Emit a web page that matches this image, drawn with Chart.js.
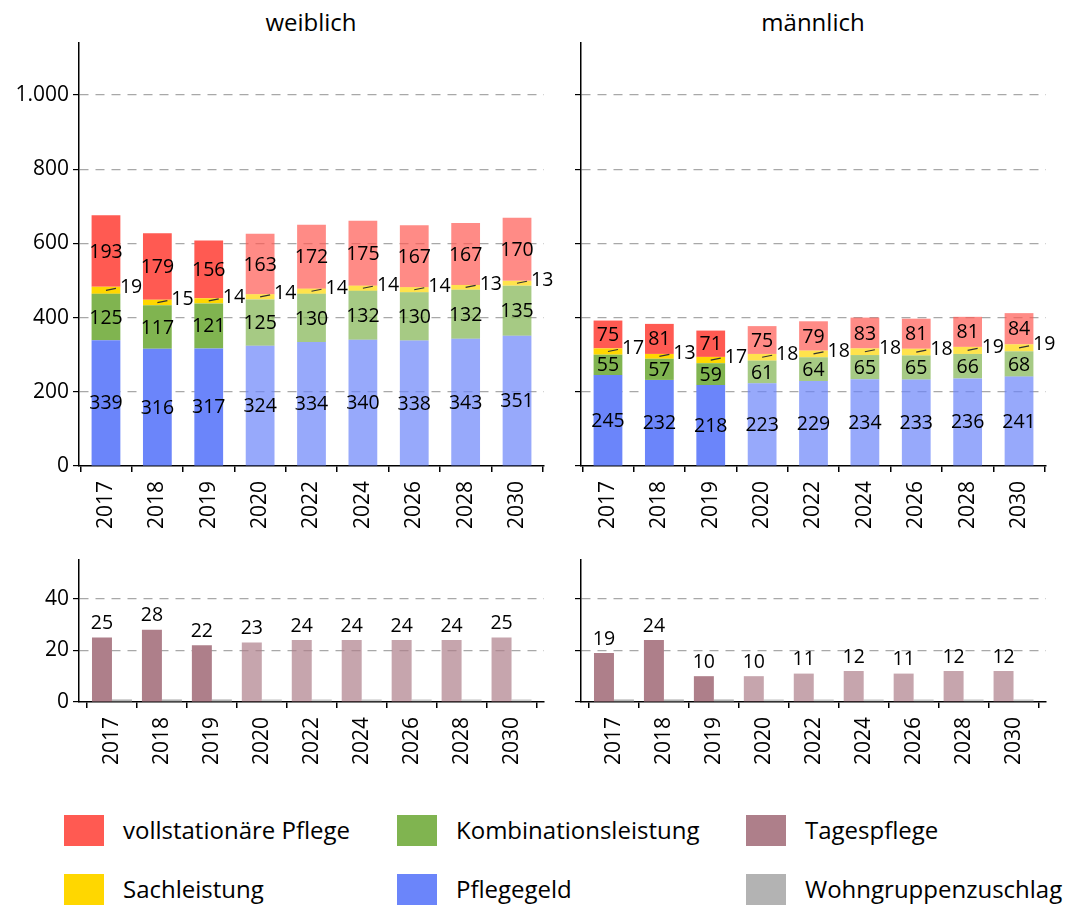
<!DOCTYPE html>
<html>
<head>
<meta charset="utf-8">
<script src="https://cdn.jsdelivr.net/npm/chart.js@4.4.1/dist/chart.umd.min.js"></script>
<style>
  body { margin: 0; background: #fff; font-family: "Open Sans", sans-serif; }
  #page { position: relative; width: 1066px; height: 907px; overflow: hidden; }
  canvas { position: absolute; }
  .title { position: absolute; top: 5px; width: 300px; text-align: center; font-size: 24px; color: #000; }
  .leg { position: absolute; height: 31px; line-height: 31px; font-size: 24px; color: #000; white-space: nowrap; }
  .leg span { position: absolute; left: 0; top: 0; width: 40px; height: 31px; }
  .leg b { font-weight: normal; position: absolute; left: 59px; top: -1px; }
</style>
</head>
<body>
<div id="page">
  <div class="title" style="left:161px">weiblich</div>
  <div class="title" style="left:663px">männlich</div>
  <canvas id="topW" width="560" height="545" style="left:0;top:0"></canvas>
  <canvas id="topM" width="560" height="545" style="left:502px;top:0"></canvas>
  <canvas id="botW" width="560" height="264" style="left:0;top:517px"></canvas>
  <canvas id="botM" width="560" height="264" style="left:502px;top:517px"></canvas>
  <div id="legend"></div>
</div>
<script>
// years, 2020 onwards are projections (drawn lighter)
var years = ['2017', '2018', '2019', '2020', '2022', '2024', '2026', '2028', '2030'];
var firstProjection = 3;

// weiblich
var pflegegeldW = [339, 316, 317, 324, 334, 340, 338, 343, 351];
var kombiW      = [125, 117, 121, 125, 130, 132, 130, 132, 135];
var sachW       = [19, 15, 14, 14, 14, 14, 14, 13, 13];
var vollW       = [193, 179, 156, 163, 172, 175, 167, 167, 170];
var tagesW      = [25, 28, 22, 23, 24, 24, 24, 24, 25];
var wohnW       = [1, 1, 1, 1, 1, 1, 1, 1, 1];

// männlich
var pflegegeldM = [245, 232, 218, 223, 229, 234, 233, 236, 241];
var kombiM      = [55, 57, 59, 61, 64, 65, 65, 66, 68];
var sachM       = [17, 13, 17, 18, 18, 18, 18, 19, 19];
var vollM       = [75, 81, 71, 75, 79, 83, 81, 81, 84];
var tagesM      = [19, 24, 10, 10, 11, 12, 11, 12, 12];
var wohnM       = [1, 1, 1, 1, 1, 1, 1, 1, 1];

var yTicksTop = [0, 200, 400, 600, 800, 1000];
var yTicksBottom = [0, 20, 40];

var colors = {
    voll: [255, 90, 82],
    kombi: [128, 180, 80],
    sach: [255, 215, 0],
    pflegegeld: [107, 133, 250],
    tages: [174, 127, 138],
    wohn: [179, 179, 179]
};

var legendItems = [
    ['vollstationäre Pflege', 'voll'],
    ['Kombinationsleistung', 'kombi'],
    ['Tagespflege', 'tages'],
    ['Sachleistung', 'sach'],
    ['Pflegegeld', 'pflegegeld'],
    ['Wohngruppenzuschlag', 'wohn']
];

var FONT = '"Open Sans", sans-serif';

function rgb(c, a) {
    return 'rgba(' + c[0] + ',' + c[1] + ',' + c[2] + ',' + a + ')';
}

function barColors(c) {
    return years.map(function (y, i) { return i < firstProjection ? rgb(c, 1) : rgb(c, 0.7); });
}

function points(arr) {
    return arr.map(function (v, i) { return { x: i, y: v }; });
}

// value labels: centred in segment, beside the bar with a small leader, or above the bar
var segLabels = {
    id: 'segLabels',
    afterDatasetsDraw: function (chart) {
        var ctx = chart.ctx;
        ctx.save();
        ctx.font = '19.5px ' + FONT;
        ctx.fillStyle = '#000';
        chart.data.datasets.forEach(function (ds, di) {
            if (!ds.labelMode) return;
            var meta = chart.getDatasetMeta(di);
            meta.data.forEach(function (bar, i) {
                var v = ds.data[i].y;
                var cy = (bar.y + bar.base) / 2;
                if (ds.labelMode === 'center') {
                    ctx.textAlign = 'center';
                    ctx.textBaseline = 'middle';
                    ctx.fillText(v, bar.x, cy + 1);
                } else if (ds.labelMode === 'side') {
                    ctx.strokeStyle = '#333';
                    ctx.lineWidth = 1.2;
                    ctx.beginPath();
                    ctx.moveTo(bar.x, cy);
                    ctx.lineTo(bar.x + 10, cy - 2);
                    ctx.stroke();
                    ctx.textAlign = 'left';
                    ctx.textBaseline = 'middle';
                    ctx.fillText(v, bar.x + 14, cy - 3);
                } else if (ds.labelMode === 'top') {
                    ctx.textAlign = 'center';
                    ctx.textBaseline = 'middle';
                    ctx.fillText(v, bar.x, bar.y - 14);
                }
            });
        });
        ctx.restore();
    }
};

function yScale(max, ticks, showLabels) {
    return {
        type: 'linear',
        min: 0,
        max: max,
        stacked: true,
        afterBuildTicks: function (scale) {
            scale.ticks = ticks.map(function (v) { return { value: v }; });
        },
        afterFit: function (scale) { scale.width = 79; },
        border: { display: true, color: '#000', width: 1.5, dash: [9, 7] },
        grid: {
            color: function (c) { return c.tick && c.tick.value === 0 ? 'rgba(0,0,0,0)' : '#a8a8a8'; },
            tickColor: '#000',
            tickLength: 6,
            lineWidth: 1.2,
            tickBorderDash: [],
            tickBorderDashOffset: 0
        },
        ticks: {
            display: showLabels,
            padding: 4,
            color: '#000',
            font: { family: FONT, size: 21 },
            callback: function (v) { return v.toLocaleString('de-DE'); }
        }
    };
}

function xScale(min, max) {
    return {
        type: 'linear',
        min: min,
        max: max,
        stacked: true,
        offset: false,
        afterBuildTicks: function (scale) {
            scale.ticks = years.map(function (y, i) { return { value: i }; });
        },
        afterFit: function (scale) { scale.height = 79; },
        border: { display: true, color: '#000', width: 1.5 },
        grid: { drawOnChartArea: false, drawTicks: true, tickLength: 6, tickColor: '#000', lineWidth: 1.5 },
        ticks: {
            autoSkip: false,
            minRotation: 90,
            maxRotation: 90,
            padding: 9,
            color: '#000',
            font: { family: FONT, size: 21 },
            callback: function (v) { return years[v]; }
        }
    };
}

function baseOptions(xs, ys) {
    return {
        responsive: false,
        animation: false,
        layout: { padding: { top: 43, right: 16, left: 0, bottom: 0 } },
        plugins: { legend: { display: false }, tooltip: { enabled: false } },
        scales: { x: xs, y: ys }
    };
}

function topChart(id, pflegegeld, kombi, sach, voll, showLabels) {
    var ds = [
        ['Pflegegeld', pflegegeld, 'pflegegeld', 'center'],
        ['Kombinationsleistung', kombi, 'kombi', 'center'],
        ['Sachleistung', sach, 'sach', 'side'],
        ['vollstationäre Pflege', voll, 'voll', 'center']
    ].map(function (d) {
        return {
            label: d[0],
            data: points(d[1]),
            backgroundColor: barColors(colors[d[2]]),
            borderWidth: 0,
            barPercentage: 0.56,
            categoryPercentage: 1,
            labelMode: d[3]
        };
    });
    new Chart(document.getElementById(id), {
        type: 'bar',
        data: { datasets: ds },
        options: baseOptions(xScale(-0.525, 8.525), yScale(1140, yTicksTop, showLabels)),
        plugins: [segLabels]
    });
}

function bottomChart(id, tages, wohn, showLabels) {
    var ds = [
        { label: 'Tagespflege', data: points(tages), backgroundColor: barColors(colors.tages), labelMode: 'top' },
        { label: 'Wohngruppenzuschlag', data: points(wohn), backgroundColor: barColors(colors.wohn) }
    ];
    ds.forEach(function (d) {
        d.borderWidth = 0;
        d.barPercentage = 1;
        d.categoryPercentage = 0.8;
    });
    var xs = xScale(-0.66, 8.65);
    xs.stacked = false;
    var ys = yScale(55, yTicksBottom, showLabels);
    ys.stacked = false;
    new Chart(document.getElementById(id), {
        type: 'bar',
        data: { datasets: ds },
        options: baseOptions(xs, ys),
        plugins: [segLabels]
    });
}

topChart('topW', pflegegeldW, kombiW, sachW, vollW, true);
topChart('topM', pflegegeldM, kombiM, sachM, vollM, false);
bottomChart('botW', tagesW, wohnW, true);
bottomChart('botM', tagesM, wohnM, false);

// legend, 3 columns x 2 rows
var legCols = [64, 397, 746];
var legRows = [815, 874];
var legend = document.getElementById('legend');
legendItems.forEach(function (item, i) {
    var el = document.createElement('div');
    el.className = 'leg';
    el.style.left = legCols[i % 3] + 'px';
    el.style.top = legRows[Math.floor(i / 3)] + 'px';
    el.innerHTML = '<span style="background:' + rgb(colors[item[1]], 1) + '"></span><b>' + item[0] + '</b>';
    legend.appendChild(el);
});
</script>
</body>
</html>
